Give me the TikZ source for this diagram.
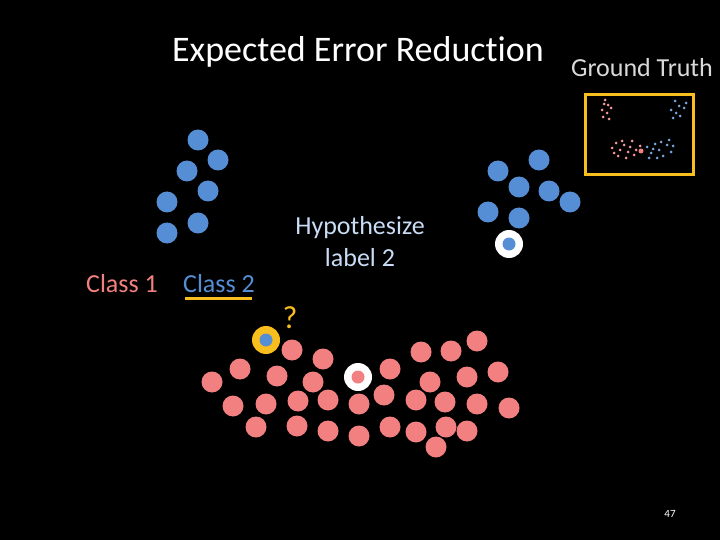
\documentclass[tikz,border=0pt]{standalone}
\usepackage{fontspec}
\setmainfont{Carlito}[Ligatures={NoCommon,NoDiscretionary,NoRare}]
\begin{document}
\begin{tikzpicture}[x=1pt,y=-1pt,
 pk/.style={circle,fill=pinkc,minimum size=21pt,inner sep=0pt},
 bl/.style={circle,fill=bluec,minimum size=21pt,inner sep=0pt},
 sp/.style={circle,fill=pinkc!80!white,minimum size=3pt,inner sep=0pt},
 sb/.style={circle,fill=bluec!80!white,minimum size=3pt,inner sep=0pt}]
\definecolor{pinkc}{RGB}{242,128,128}
\definecolor{bluec}{RGB}{85,142,213}
\definecolor{yel}{RGB}{248,190,30}
\definecolor{hyp}{RGB}{200,220,245}
\fill[black] (0,0) rectangle (720,540);
\useasboundingbox (0,0) rectangle (720,540);
\node[white,font=\fontsize{36}{36}\selectfont] (title) at (358,52) {Expected Error Reduction};
\node[white!85!black,font=\fontsize{26}{26}\selectfont] (gt) at (642,68) {Ground Truth};
\draw[yel,line width=3pt] (585,95) rectangle (693,175);
\foreach \p [count=\i] in {(198,140),(218,160),(187,171),(208,191),(167,202),(198,223),(167,233),(539,160),(498,171),(519,187),(549,191),(570,202),(488,212),(519,218)}
 \node[bl] (b\i) at \p {};
\foreach \p [count=\i] in {(212,382),(240,369),(292,350),(323,359),(277,376),(313,382),(233,406),(266,404),(298,401),(328,400),(359,404),(384,395),(390,369),(421,352),(451,351),(477,341),(430,382),(467,377),(498,372),(416,400),(445,402),(477,404),(509,408),(256,427),(297,426),(328,431),(359,436),(390,427),(416,432),(446,427),(467,431),(436,447)}
 \node[pk] (p\i) at \p {};
\node[circle,fill=white,minimum size=28pt,inner sep=0pt] (wr1) at (358,377) {};
\node[circle,fill=pinkc,minimum size=13pt,inner sep=0pt] (wp) at (358,377) {};
\node[circle,fill=white,minimum size=28pt,inner sep=0pt] (wr2) at (509,244) {};
\node[circle,fill=bluec,minimum size=13pt,inner sep=0pt] (wb) at (509,244) {};
\node[circle,fill=yel,minimum size=28pt,inner sep=0pt] (yr) at (266,340) {};
\node[circle,fill=bluec,minimum size=13pt,inner sep=0pt] (yb) at (266,340) {};
\node[yel,font=\fontsize{32}{32}\selectfont] (q) at (290,318) {?};
\node[pinkc,font=\fontsize{26}{26}\selectfont] (c1) at (122,284) {Class 1};
\node[bluec,font=\fontsize{26}{26}\selectfont] (c2) at (219,284) {Class 2};
\draw[yel,line width=3pt] (185,298) -- (252,298);
\node[hyp,font=\fontsize{26}{32}\selectfont,align=center] (h) at (360,242) {Hypothesize\\label 2};
\node[white,font=\fontsize{11}{11}\selectfont] (n) at (670,514) {47};
% ground truth mini scatter
\foreach \p in {(605,100),(608,105),(602,110),(607,113),(603,117),(609,119),(611,108),(604,104)}
 \node[sp] at \p {};
\foreach \p in {(675,101),(679,106),(671,110),(684,108),(676,113),(680,116),(673,118),(686,103)}
 \node[sb] at \p {};
\foreach \p in {(612,148),(616,143),(620,150),(624,145),(628,152),(632,141),(618,156),(626,158),(634,155),(630,147),(636,150),(622,141),(640,146),(614,153)}
 \node[sp] at \p {};
\node[circle,fill=pinkc,minimum size=5pt,inner sep=0pt] at (641,151) {};
\foreach \p in {(647,147),(651,153),(655,144),(659,150),(663,156),(667,145),(671,152),(649,158),(657,158),(661,142),(669,140),(673,146),(653,149)}
 \node[sb] at \p {};
\end{tikzpicture}
\end{document}
